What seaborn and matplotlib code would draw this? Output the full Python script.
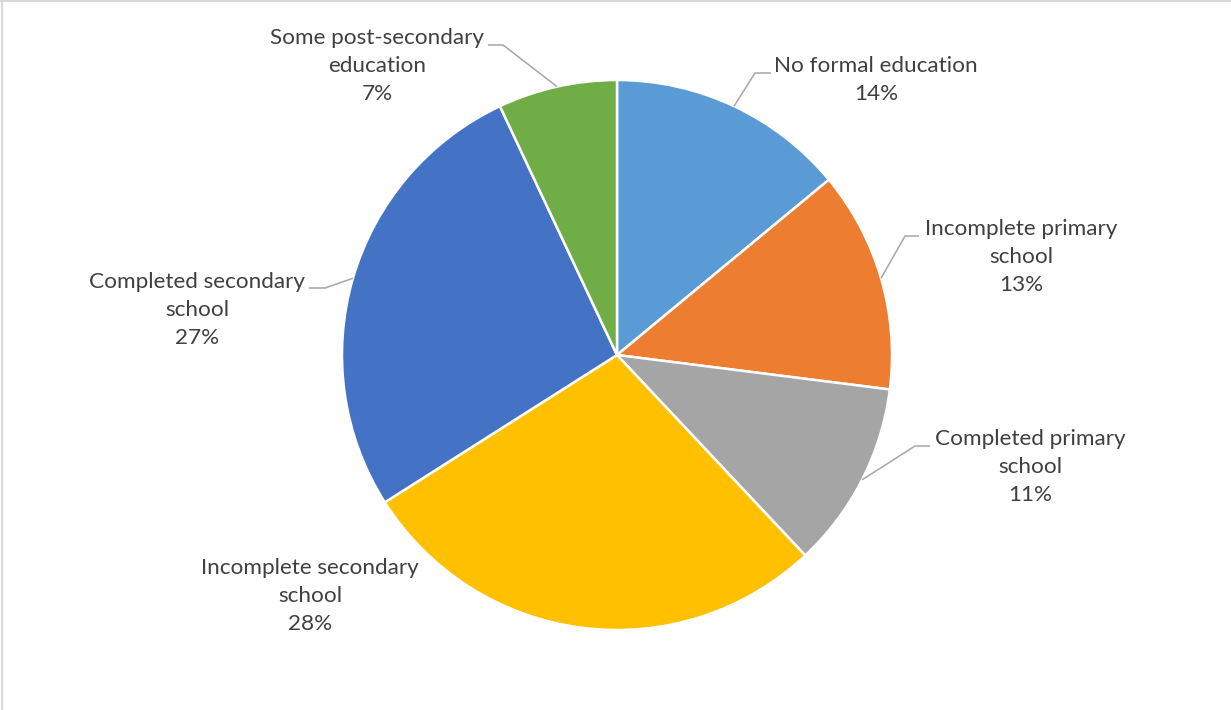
import matplotlib
matplotlib.use("Agg")
import matplotlib.pyplot as plt
from matplotlib.lines import Line2D
import numpy as np
import seaborn as sns

# Education attainment shares (percent)
categories = [
    "No formal education",
    "Incomplete primary\nschool",
    "Completed primary\nschool",
    "Incomplete secondary\nschool",
    "Completed secondary\nschool",
    "Some post-secondary\neducation",
]
shares = [14, 13, 11, 28, 27, 7]
colors = ["#5B9BD5", "#ED7D31", "#A5A5A5", "#FFC000", "#4472C4", "#70AD47"]

sns.set_theme(style="white")
plt.rcParams["font.family"] = ["Lato", "DejaVu Sans"]

W, H, DPI = 1231, 710, 100
fig = plt.figure(figsize=(W / DPI, H / DPI), dpi=DPI)
ax = fig.add_axes([0, 0, 1, 1])

# pixel layout of the pie
cx, cy, R = 617, 355, 275

wedges, _ = ax.pie(
    shares, colors=colors, startangle=90, counterclock=False, radius=1.0,
    wedgeprops=dict(edgecolor="white", linewidth=1.8),
)
ax.set_xlim(-cx / R, (W - cx) / R)
ax.set_ylim(-(H - cy) / R, cy / R)
ax.set_aspect("equal")
ax.axis("off")


def px(x, y):
    return ((x - cx) / R, (cy - y) / R)


# label block centre (px) and leader end / elbow (px), None for no leader
label_layout = [
    ((876, 80), ((771, 73), (755, 73))),
    ((1021, 257), ((919, 236), (905, 236))),
    ((1030, 467), ((930, 446), (915, 446))),
    ((310, 596), None),
    ((197, 310), ((309, 288), (325, 288))),
    ((377, 66), ((488, 45), (503, 45))),
]

text_color = "#404040"
for w, name, val, (pos, leader) in zip(wedges, categories, shares, label_layout):
    mid = np.deg2rad((w.theta1 + w.theta2) / 2)
    ex, ey = np.cos(mid), np.sin(mid)
    ax.text(*px(*pos), f"{name}\n{val}%", ha="center", va="center",
            fontsize=16.2, color=text_color, linespacing=1.5)
    if leader is not None:
        (x0, y0), (x1, y1) = leader
        p0, p1 = px(x0, y0), px(x1, y1)
        ax.plot([p0[0], p1[0], ex], [p0[1], p1[1], ey], color="#A6A6A6",
                lw=1.1, solid_capstyle="butt")

# chart-area border on the visible edges
fig.add_artist(Line2D([1.5 / W, 1.5 / W], [0, 1], color="#D9D9D9", lw=1.5,
                      transform=fig.transFigure))
fig.add_artist(Line2D([0, 1], [1 - 0.8 / H, 1 - 0.8 / H], color="#D9D9D9", lw=1.5,
                      transform=fig.transFigure))

fig.savefig("out.png", dpi=DPI)
